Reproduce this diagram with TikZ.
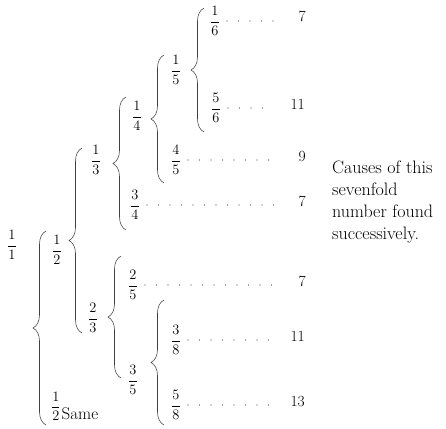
\documentclass[tikz,border=0pt]{standalone}
\usepackage{amsmath}
\usepackage{fontspec}
\usetikzlibrary{decorations.pathreplacing}
\begin{document}
\begin{tikzpicture}[x=1pt,y=-1pt,
  frac/.style={inner sep=0pt, font=\fontsize{14.5}{16}\selectfont},
  numlabel/.style={inner sep=0pt, anchor=base east, font=\fontsize{15.5}{16}\selectfont},
  brc/.style={draw=black!75, line width=0.55pt, decorate,
    decoration={brace, amplitude=13pt, aspect=0.5}},
  dotrow/.style={draw=black!75, line width=1.3pt, line cap=round,
    dash pattern=on 0pt off 11.5pt, shorten <=7pt, shorten >=20pt},
  note/.style={inner sep=0pt, anchor=north west, align=left,
    font=\fontsize{18}{22}\selectfont\addfontfeatures{LetterSpace=4}}]
\useasboundingbox (0,0) rectangle (446,428);

% fractions of the tree
\node[frac] (f11) at (12,245) {$\dfrac{1}{1}$};
\node[frac] (f12) at (57,250) {$\dfrac{1}{2}$};
\node[frac, anchor=base west] (f12s) at (51,411)
  {$\dfrac{1}{2}$\kern1pt\raisebox{-0.62em}{\fontsize{17}{18}\selectfont\addfontfeatures{LetterSpace=5}Same}};
\node[frac] (f13) at (96,160) {$\dfrac{1}{3}$};
\node[frac] (f23) at (93,318) {$\dfrac{2}{3}$};
\node[frac] (f14) at (137,116) {$\dfrac{1}{4}$};
\node[frac] (f34) at (135,205) {$\dfrac{3}{4}$};
\node[frac] (f15) at (176,70) {$\dfrac{1}{5}$};
\node[frac] (f45) at (176,160) {$\dfrac{4}{5}$};
\node[frac] (f16) at (215,21) {$\dfrac{1}{6}$};
\node[frac] (f56) at (216,108) {$\dfrac{5}{6}$};
\node[frac] (f25) at (133,285) {$\dfrac{2}{5}$};
\node[frac] (f35) at (133,380) {$\dfrac{3}{5}$};
\node[frac] (f38) at (176,340) {$\dfrac{3}{8}$};
\node[frac] (f58) at (176,405) {$\dfrac{5}{8}$};

% numbers at the ends of the rows
\node[numlabel] (n16) at (306,22) {7};
\node[numlabel] (n56) at (305,109) {11};
\node[numlabel] (n45) at (306,161) {9};
\node[numlabel] (n34) at (306,206) {7};
\node[numlabel] (n25) at (306,286) {7};
\node[numlabel] (n38) at (305,341) {11};
\node[numlabel] (n58) at (305,406) {13};

% end points of the braces
\coordinate (b11t) at (46,231);  \coordinate (b11b) at (46,425);
\coordinate (b12t) at (82,148);  \coordinate (b12b) at (82,333);
\coordinate (b13t) at (126,97);  \coordinate (b13b) at (126,230);
\coordinate (b14t) at (164,55);  \coordinate (b14b) at (164,183);
\coordinate (b15t) at (204,8);   \coordinate (b15b) at (204,132);
\coordinate (b23t) at (121,256); \coordinate (b23b) at (121,378);
\coordinate (b35t) at (164,300); \coordinate (b35b) at (164,425);

% braces, drawn upwards so that the tip points left
\draw[brc] (b11b) -- (b11t);
\draw[brc] (b12b) -- (b12t);
\draw[brc] (b13b) -- (b13t);
\draw[brc] (b14b) -- (b14t);
\draw[brc] (b15b) -- (b15t);
\draw[brc] (b23b) -- (b23t);
\draw[brc] (b35b) -- (b35t);

% dotted leaders
\draw[dotrow] (f16.east) -- (f16.east -| n16.west);
\draw[dotrow] (f56.east) -- (f56.east -| n56.west);
\draw[dotrow] (f45.east) -- (f45.east -| n45.west);
\draw[dotrow] (f34.east) -- (f34.east -| n34.west);
\draw[dotrow] (f25.east) -- (f25.east -| n25.west);
\draw[dotrow] (f38.east) -- (f38.east -| n38.west);
\draw[dotrow] (f58.east) -- (f58.east -| n58.west);

% side note
\node[note] (causes) at (332,161)
  {Causes of this\\sevenfold\\number found\\successively.};
\end{tikzpicture}
\end{document}
